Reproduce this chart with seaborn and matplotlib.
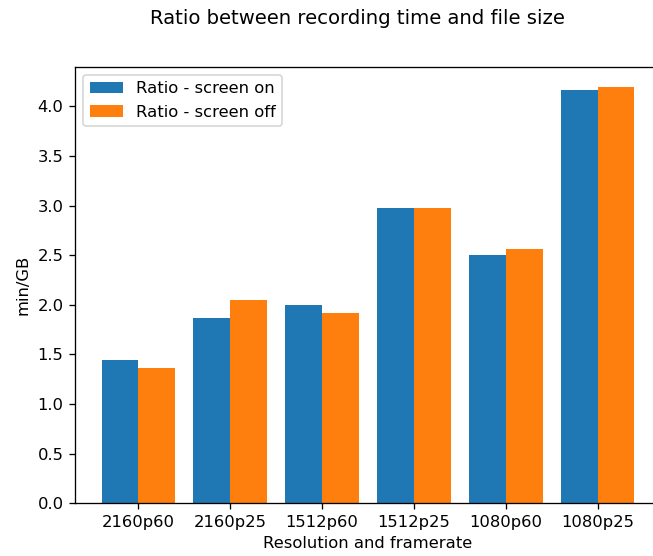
import seaborn as sns
import pandas as pd
import matplotlib
import matplotlib.pyplot as plt
matplotlib.use('Agg')

# values
formats = ["2160p60", "2160p25", "1512p60", "1512p25", "1080p60", "1080p25"]
ratio_screen_on = [1.44, 1.87, 2.00, 2.98, 2.505, 4.16]
ratio_screen_off = [1.365, 2.05, 1.92, 2.98, 2.565, 4.19]
series_names = ["Ratio - screen on", "Ratio - screen off"]

df = pd.DataFrame({
    "format": formats * 2,
    "ratio": ratio_screen_on + ratio_screen_off,
    "series": [series_names[0]] * len(formats) + [series_names[1]] * len(formats),
})

pal = {series_names[0]: "#1f77b4", series_names[1]: "#ff7f0e"}

dpi = 118
fig = plt.figure(figsize=(653/dpi, 556/dpi), dpi=dpi)
ax = fig.add_axes([75/653, 1 - 503.3/556, 586/653, 436.6/556])
sns.barplot(data=df, x="format", y="ratio", hue="series", palette=pal,
            saturation=1, errorbar=None, ax=ax, linewidth=0)
ax.set_xlim(-0.69, 5.69)
ax.set_ylim(0, 4.3995)
ax.set_xlabel("Resolution and framerate")
ax.set_ylabel("min/GB")
handles, labels = ax.get_legend_handles_labels()
ax.legend(handles=handles, labels=labels, loc="upper left")
fig.suptitle("Ratio between recording time and file size", x=0.547, y=0.966, va="center")
fig.savefig("out.png", dpi=dpi)
